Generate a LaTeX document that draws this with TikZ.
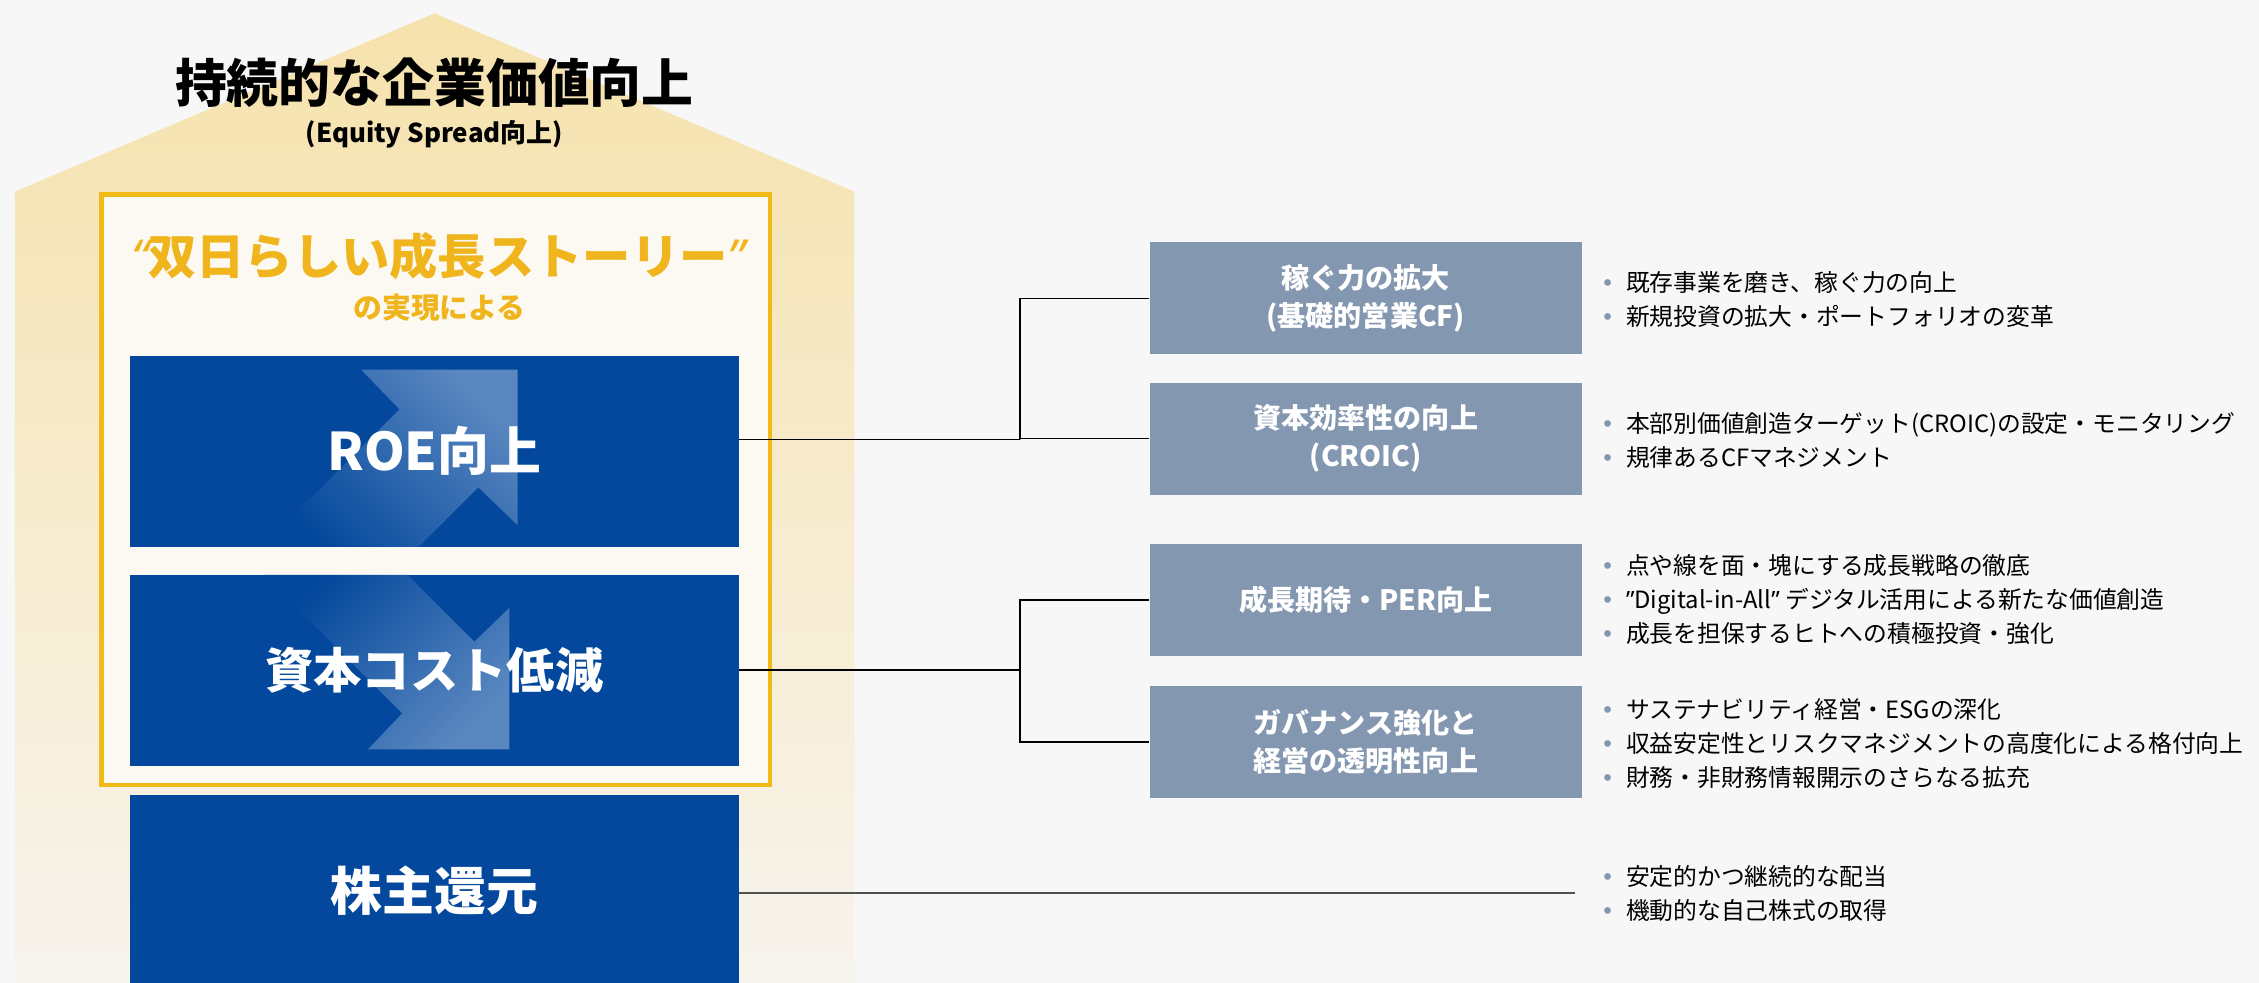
\documentclass[tikz,border=0pt]{standalone}
\usepackage{fontspec}
\setmainfont{Noto Sans CJK JP}
\newfontfamily\dejavu{DejaVu Sans}
\newfontfamily\latinq{Noto Sans}
\usetikzlibrary{calc}
\definecolor{bgc}{HTML}{F7F7F7}
\definecolor{houseTop}{HTML}{F6E2AC}
\definecolor{houseBot}{HTML}{F7F4EE}
\definecolor{framefill}{HTML}{FBF9F2}
\definecolor{framedraw}{HTML}{F2BA17}
\definecolor{navy}{HTML}{03489C}
\definecolor{arrowlight}{HTML}{5A87C0}
\definecolor{graybox}{HTML}{8497B0}
\definecolor{bulc}{HTML}{8497B0}
\definecolor{gold}{HTML}{F0B51C}
\definecolor{linegray}{HTML}{505050}
\newcommand\bul{{\dejavu\fontsize{16}{16}\selectfont\textcolor{bulc}{•}}\hspace{8pt}}
\tikzset{
  bluebox/.style={fill=navy, minimum width=423pt, minimum height=132.4pt, inner sep=0pt},
  bluetext/.style={text=white, font=\fontsize{#1}{40}\selectfont\bfseries},
  graynode/.style={fill=graybox, text=white, font=\fontsize{19.5}{26.5}\selectfont\bfseries,
    minimum width=300pt, minimum height=78pt, inner sep=0pt, align=center},
  bullets/.style={anchor=west, inner sep=0pt, align=left, text=black,
    font=\fontsize{16.5}{23.7}\selectfont},
  conn/.style={draw=black, line width=1pt},
  conn2/.style={draw=linegray, line width=1.6pt}
}
\begin{document}
\begin{tikzpicture}[x=1pt,y=-1pt]
\useasboundingbox (0,0) rectangle (1568,682);
\fill[bgc] (0,0) rectangle (1568,682);
% house
\shade[top color=houseTop, bottom color=houseBot]
  (10.4,133) -- (301.5,9.3) -- (593,133) -- (593,682) -- (10.4,682) -- cycle;
% frame
\draw[framedraw, fill=framefill, line width=3pt] (70.5,135) rectangle (534.6,545);
% titles
\node[font=\fontsize{36}{40}\selectfont\bfseries, text=black] (title) at (301.5,57.6) {持続的な企業価値向上};
\node[font=\fontsize{18}{20}\selectfont\bfseries, text=black] (subtitle) at (301.5,93.5) {(Equity Spread向上)};
\node[font=\fontsize{33.5}{36}\selectfont\bfseries, text=gold] (story) at (304,178) {{\latinq\bfseries\itshape “}双日らしい成長ストーリー{\latinq\bfseries\itshape ”}};
\node[font=\fontsize{20}{22}\selectfont\bfseries, text=gold] (story2) at (305,213.5) {の実現による};
% blue boxes
\node[bluebox] (roe) at (301.5,313.2) {};
\node[bluebox] (cost) at (301.5,465.2) {};
\node[bluebox] (ret) at (301.5,618) {};
% arrow overlays
\begin{scope}
  \clip (90,247) rectangle (513,379.4);
  \shade[top color=arrowlight, bottom color=navy, shading angle=-45]
    (250.6,256.6) -- (359.3,256.6) -- (359.3,364.6) -- (332,338.3) -- (290.3,380)
    -- (181.4,380) -- (277.3,284.1) -- cycle;
\end{scope}
\begin{scope}
  \clip (90,399) rectangle (513,531.5);
  \shade[top color=navy, bottom color=arrowlight, shading angle=45]
    (353.6,421.8) -- (353.6,520.1) -- (255.4,520.1) -- (279.2,495.1) -- (183.1,399)
    -- (282.9,399) -- (329.3,445.4) -- cycle;
\end{scope}
\node[bluetext=36] (roet) at (roe) {ROE向上};
\node[bluetext=33.5] (costt) at (cost) {資本コスト低減};
\node[bluetext=36] (rett) at (ret) {株主還元};
% gray boxes
\node[graynode] (g1) at (948,207) {稼ぐ力の拡大\\(基礎的営業CF)};
\node[graynode] (g2) at (948,304.5) {資本効率性の向上\\(CROIC)};
\node[graynode] (g3) at (948,416.5) {成長期待・PER向上};
\node[graynode] (g4) at (948,515) {ガバナンス強化と\\経営の透明性向上};
% connectors
\coordinate (j1) at (708,305);
\coordinate (j2) at (708,465.2);
\draw[conn] (roe.east |- j1) -- (j1);
\draw[conn] (g1.west) -| (j1) |- (g2.west);
\draw[conn] (cost.east) -- (j2);
\draw[conn] (g3.west) -| (j2) |- (g4.west);
\coordinate (e5) at (1093,620);
\draw[conn2] (ret.east |- e5) -- (e5);
% bullets
\node[bullets] (b1) at (1111,208) {\bul 既存事業を磨き、稼ぐ力の向上\\\bul 新規投資の拡大・ポートフォリオの変革};
\node[bullets] (b2) at (1111,306) {\bul 本部別価値創造ターゲット(CROIC)の設定・モニタリング\\\bul 規律あるCFマネジメント};
\node[bullets] (b3) at (1111,416) {\bul 点や線を面・塊にする成長戦略の徹底\\\bul {\latinq ”}Digital-in-All{\latinq ”} デジタル活用による新たな価値創造\\\bul 成長を担保するヒトへの積極投資・強化};
\node[bullets] (b4) at (1111,516) {\bul サステナビリティ経営・ESGの深化\\\bul 収益安定性とリスクマネジメントの高度化による格付向上\\\bul 財務・非財務情報開示のさらなる拡充};
\node[bullets] (b5) at (1111,620) {\bul 安定的かつ継続的な配当\\\bul 機動的な自己株式の取得};
\end{tikzpicture}
\end{document}
